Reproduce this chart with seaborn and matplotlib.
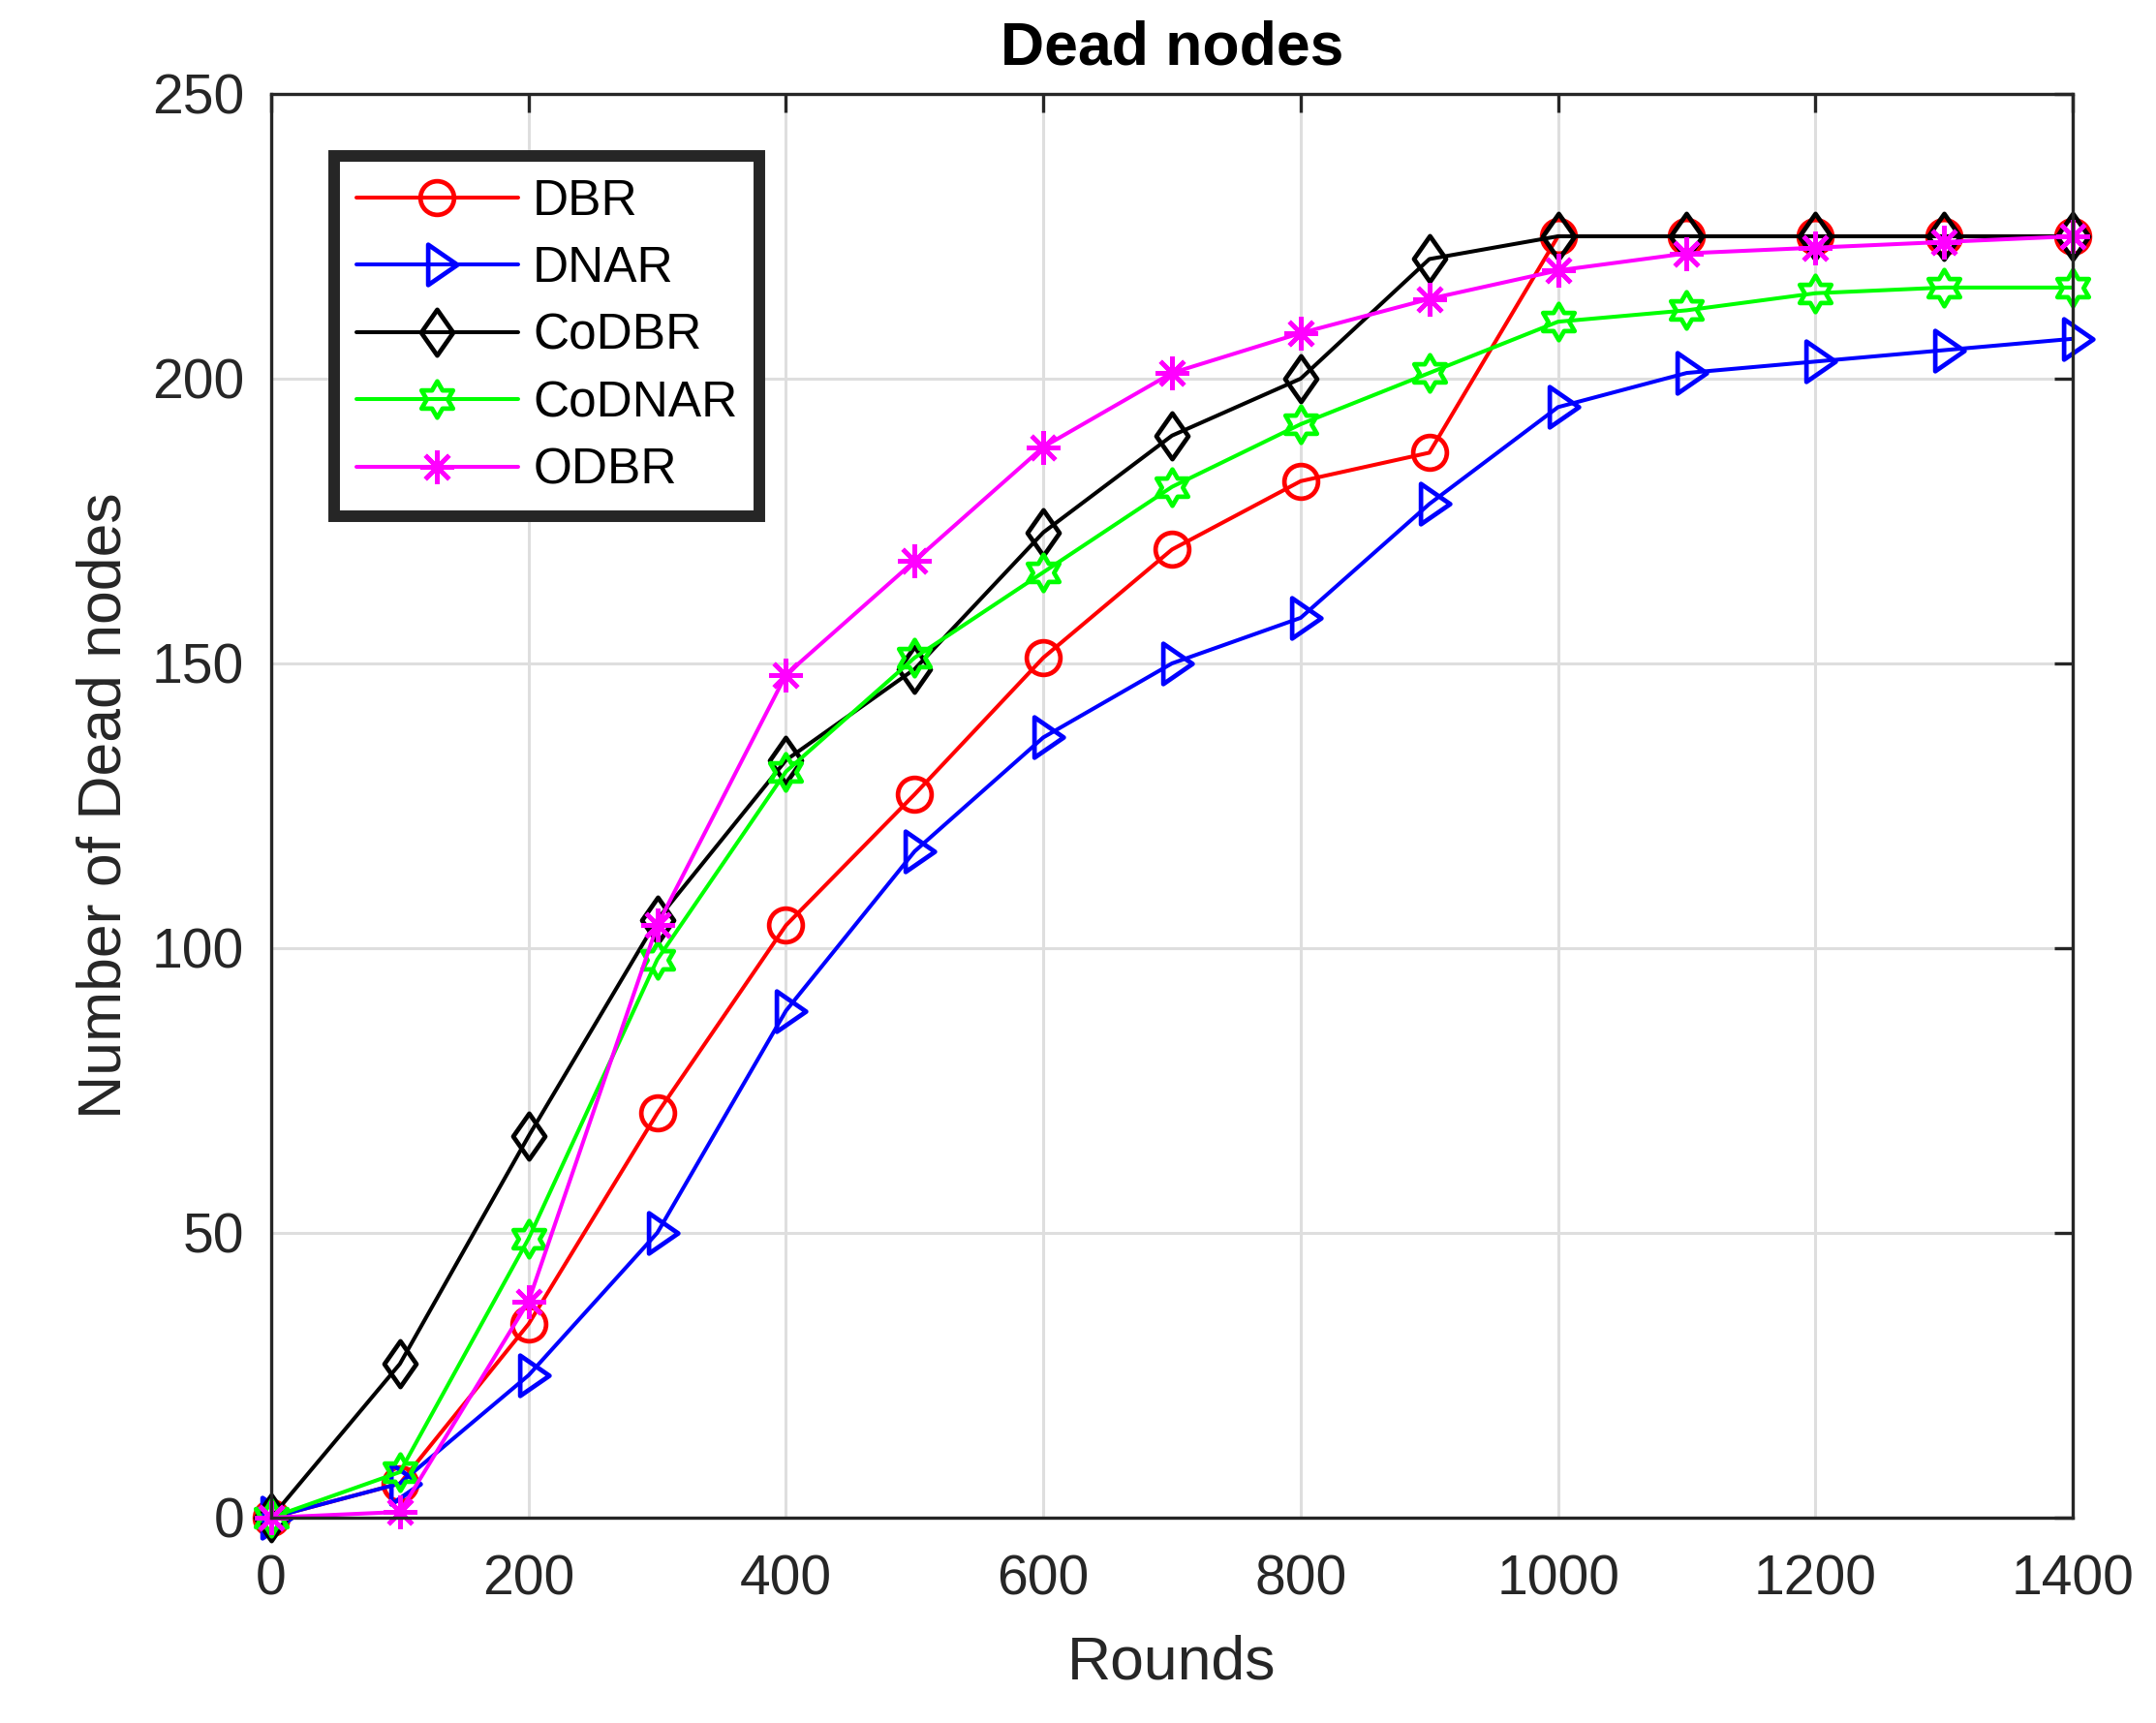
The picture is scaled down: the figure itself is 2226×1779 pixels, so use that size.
import numpy as np
import pandas as pd
import seaborn as sns
import matplotlib.pyplot as plt
from matplotlib.path import Path

rounds = [0, 100, 200, 300, 400, 500, 600, 700, 800, 900, 1000, 1100, 1200, 1300, 1400]

dbr = [0, 6, 34, 71, 104, 127, 151, 170, 182, 187, 225, 225, 225, 225, 225]
dnar = [0, 6, 25, 50, 89, 117, 137, 150, 158, 178, 195, 201, 203, 205, 207]
codbr = [0, 27, 67, 105, 133, 149, 173, 190, 200, 221, 225, 225, 225, 225, 225]
codnar = [0, 8, 49, 98, 131, 151, 166, 181, 192, 201, 210, 212, 215, 216, 216]
odbr = [0, 1, 38, 104, 148, 168, 188, 201, 208, 214, 219, 222, 223, 224, 225]

names = ["DBR", "DNAR", "CoDBR", "CoDNAR", "ODBR"]
series = [dbr, dnar, codbr, codnar, odbr]

# marker shapes similar to MATLAB's
tri = Path([(-0.45, 1), (1, 0), (-0.45, -1), (-0.45, 1)], closed=True)
diamond = Path([(0, 1), (0.7, 0), (0, -1), (-0.7, 0), (0, 1)], closed=True)
ang = np.deg2rad(90 + 30 * np.arange(12))
rad = np.where(np.arange(12) % 2 == 0, 1.0, 1 / np.sqrt(3))
hexv = np.column_stack([rad * np.cos(ang), rad * np.sin(ang)])
hexagram = Path(np.vstack([hexv, hexv[:1]]), closed=True)

styles = {
    "DBR": dict(color=(1, 0, 0), marker="o", ms=25),
    "DNAR": dict(color=(0, 0, 1), marker=tri, ms=30),
    "CoDBR": dict(color=(0, 0, 0), marker=diamond, ms=34),
    "CoDNAR": dict(color=(0, 1, 0), marker=hexagram, ms=27),
    "ODBR": dict(color=(1, 0, 1), marker=(8, 2, 0), ms=25),
}

sns.set_style("white")
plt.rcParams["font.family"] = ["Liberation Sans", "DejaVu Sans"]
dark = (0.15, 0.15, 0.15)

fig = plt.figure(figsize=(22.26, 17.79), dpi=100)
ax = fig.add_axes([0.1258, 0.1192, 0.9614 - 0.1258, 0.9455 - 0.1192])

for name, vals in zip(names, series):
    st = styles[name]
    df = pd.DataFrame({"Rounds": rounds, "Dead": vals})
    sns.lineplot(data=df, x="Rounds", y="Dead", ax=ax, color=st["color"],
                 marker=st["marker"], markersize=st["ms"], markerfacecolor="none",
                 markeredgecolor=st["color"], label=name, clip_on=False)

# make sure the widths stick
for line in ax.lines:
    line.set_linewidth(2.9)
    line.set_markeredgewidth(3.4)

ax.set_xlim(0, 1400)
ax.set_ylim(0, 250)
ax.set_xticks(range(0, 1401, 200))
ax.set_yticks(range(0, 251, 50))
ax.grid(True, color=(0.87, 0.87, 0.87), linewidth=2.2)
ax.set_axisbelow(True)
for sp in ax.spines.values():
    sp.set_visible(True)
    sp.set_color(dark)
    sp.set_linewidth(2.4)
ax.tick_params(direction="in", length=14, width=2.4, color=dark, labelcolor=dark,
               labelsize=41, top=True, right=True)
ax.tick_params(axis="x", pad=27)
ax.tick_params(axis="y", pad=20)

ax.set_xlabel("Rounds", fontsize=45, color=dark, labelpad=21)
ax.set_ylabel("Number of Dead nodes", fontsize=45, color=dark, labelpad=14)
ax.set_title("Dead nodes", fontsize=45, fontweight="bold", color="black", pad=22)

leg = ax.legend(loc="upper left", bbox_to_anchor=(0.035, 0.9565), borderaxespad=0,
                fontsize=37, frameon=True, fancybox=False, edgecolor=dark,
                framealpha=1, handlelength=3.25, handletextpad=0.3,
                labelspacing=0.40, borderpad=0.44, numpoints=1)
leg.get_frame().set_linewidth(8.6)
for t in leg.get_texts():
    t.set_color("black")

fig.savefig("out.png", dpi=100)
